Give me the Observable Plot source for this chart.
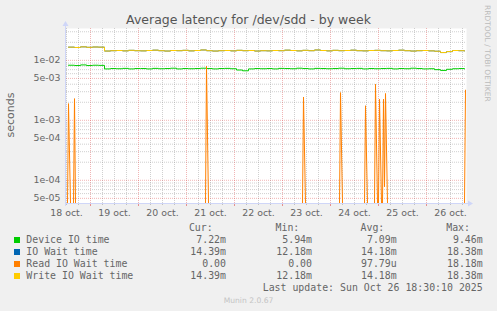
<!DOCTYPE html>
<html><head><meta charset="utf-8">
<script src="https://cdn.jsdelivr.net/npm/d3@7"></script>
<script src="https://cdn.jsdelivr.net/npm/@observablehq/plot@0.6"></script>
<style>
html,body{margin:0;padding:0;background:#F0F0F0;width:497px;height:311px;overflow:hidden;}
#wrap{position:relative;width:497px;height:311px;}
</style></head><body><div id="wrap"></div>
<script>
// ---- data ----
const startTime = "2025-10-18T13:00:00Z";   // first sample, 3-hour spacing
const stepHours = 3;
// Device IO time (milliseconds)
const deviceIO = [
  8.3,8.2,8.4,8.2,8.3,8.25,
  7.2,7.3,7.25,7.35,7.2,7.3,
  7.3,7.2,7.35,7.25,7.3,7.4,7.2,7.3,
  7.25,7.3,7.4,7.3,7.2,7.3,7.35,7.25,
  6.9,6.7,7.2,7.3,7.25,7.3,7.2,7.35,
  7.3,7.25,7.4,7.3,7.2,7.35,7.3,7.25,
  7.3,7.4,7.25,7.3,7.35,7.2,7.3,7.25,
  7.3,7.35,7.2,7.3,7.25,7.4,7.3,7.2,
  7.25,7.0,6.8,7.1,7.25,7.3,7.22
];
// Write IO Wait time (milliseconds)
const writeWait = [
  16.6,16.4,16.8,16.5,16.7,16.6,
  14.3,14.5,14.6,14.4,14.7,14.5,
  14.4,14.6,14.8,14.5,14.3,14.6,14.5,14.7,
  14.4,14.6,14.9,14.5,14.3,14.5,14.6,14.4,
  14.7,14.5,14.6,14.3,14.5,14.4,14.6,14.5,
  14.8,14.6,14.4,14.7,14.5,14.9,14.6,14.4,
  14.7,14.5,14.6,14.8,14.5,14.4,14.6,14.7,
  14.5,14.4,14.6,14.8,14.5,14.3,14.5,14.6,
  14.4,14.2,13.5,14.0,14.6,14.5,14.39
];
// IO Wait time: same values as write wait (identical statistics)
const ioWait = writeWait.slice();
// Read IO Wait time (seconds), spikes
const readTimes = [
  "2025-10-18T12:00Z","2025-10-18T12:30Z","2025-10-18T13:00Z","2025-10-18T14:00Z",
  "2025-10-18T15:30Z","2025-10-18T16:00Z","2025-10-18T16:30Z",
  "2025-10-21T09:30Z","2025-10-21T10:00Z","2025-10-21T11:00Z",
  "2025-10-23T10:00Z","2025-10-23T10:30Z","2025-10-23T11:30Z",
  "2025-10-24T04:30Z","2025-10-24T05:00Z","2025-10-24T06:00Z",
  "2025-10-24T17:00Z","2025-10-24T17:30Z","2025-10-24T18:30Z",
  "2025-10-24T22:00Z","2025-10-24T22:30Z","2025-10-24T23:30Z",
  "2025-10-25T00:00Z","2025-10-25T00:30Z","2025-10-25T01:30Z",
  "2025-10-25T02:00Z","2025-10-25T02:30Z","2025-10-25T03:00Z","2025-10-25T03:30Z","2025-10-25T04:30Z",
  "2025-10-26T19:00Z","2025-10-26T19:30Z","2025-10-26T20:00Z"
];
const readValues = [
  0,0,1.9e-3,0,
  0,2.3e-3,0,
  0,8.0e-3,0,
  0,2.45e-3,0,
  0,2.9e-3,0,
  0,1.75e-3,0,
  0,4.0e-3,0,
  0,2.25e-3,0,
  0,2.25e-3,7.8e-5,2.8e-3,0,
  0,3.2e-3,3.2e-3
];
const xDomain = ["2025-10-18T12:00Z","2025-10-26T20:00Z"];
const yDomain = [4.1e-5, 0.034];
const dayTicks = ["2025-10-18T12:00Z","2025-10-19T12:00Z","2025-10-20T12:00Z","2025-10-21T12:00Z",
  "2025-10-22T12:00Z","2025-10-23T12:00Z","2025-10-24T12:00Z","2025-10-25T12:00Z","2025-10-26T12:00Z"];
const dayLabels = ["18 oct.","19 oct.","20 oct.","21 oct.","22 oct.","23 oct.","24 oct.","25 oct.","26 oct."];
const yTickValues = [5e-5,1e-4,5e-4,1e-3,5e-3,1e-2];
const yTickLabels = ["5e-05","1e-04","5e-04","1e-03","5e-03","1e-02"];

const legendNames = ["Device IO time","IO Wait time","Read IO Wait time","Write IO Wait time"];
const legendColors = ["#00CC00","#0066B3","#FF8000","#FFCC00"];
const legendCur = ["7.22m","14.39m","0.00","14.39m"];
const legendMin = ["5.94m","12.18m","0.00","12.18m"];
const legendAvg = ["7.09m","14.18m","97.79u","14.18m"];
const legendMax = ["9.46m","18.38m","18.18m","18.38m"];
const title = "Average latency for /dev/sdd - by week";
const yLabel = "seconds";
const lastUpdate = "Last update: Sun Oct 26 18:30:10 2025";
const footer = "Munin 2.0.67";
const sideText = "RRDTOOL / TOBI OETIKER";

// ---- build ----
const t0 = Date.parse(startTime);
const times = deviceIO.map((_, i) => new Date(t0 + i * stepHours * 3600e3));
const dev = deviceIO.map((v, i) => ({t: times[i], v: v / 1000}));
const iow = ioWait.map((v, i) => ({t: times[i], v: v / 1000}));
const wr = writeWait.map((v, i) => ({t: times[i], v: v / 1000}));
const rd = readTimes.map((s, i) => ({t: new Date(s), v: readValues[i]}));
const xd = xDomain.map(s => new Date(s));
const dticks = dayTicks.map(s => new Date(s));
const yticks = yTickValues.map((v, i) => ({v, label: yTickLabels[i]}));

const majorY = yTickValues;
const minorY = [];
for (let k = -5; k <= -2; k++) for (let m = 1; m <= 9; m++) {
  const v = +(m * Math.pow(10, k)).toPrecision(3);
  if (v >= yDomain[0] && v <= yDomain[1] && !majorY.some(u => Math.abs(u - v) / v < 1e-6)) minorY.push(v);
}
const midnights = d3.utcDay.range(xd[0], xd[1]);
const sixH = d3.utcHour.every(6).range(xd[0], xd[1]).filter(d => d.getUTCHours() !== 0);

const gridGrey = {stroke: "#8f8f8f", strokeOpacity: 0.42, strokeDasharray: "1,1"};
const gridRed = {stroke: "#de4f4f", strokeOpacity: 0.42, strokeDasharray: "1,1"};

const plot = Plot.plot({
  width: 497, height: 311,
  marginLeft: 66, marginRight: 31, marginTop: 28, marginBottom: 108,
  style: {background: "transparent", fontFamily: "'DejaVu Sans'", fontSize: "9.4px", color: "#666", overflow: "visible"},
  x: {type: "utc", domain: xd, axis: null},
  y: {type: "log", domain: yDomain, axis: null},
  marks: [
    Plot.frame({fill: "#ffffff", stroke: null}),
    Plot.ruleY(minorY, gridGrey),
    Plot.ruleX(sixH, gridGrey),
    Plot.ruleY(majorY, gridRed),
    Plot.ruleX(midnights, gridRed),
    Plot.line(dev, {x: "t", y: "v", stroke: legendColors[0], strokeWidth: 1, curve: "step-after", clip: true}),
    Plot.line(iow, {x: "t", y: "v", stroke: legendColors[1], strokeWidth: 1, curve: "step-after", clip: true}),
    Plot.line(rd, {x: "t", y: d => Math.max(d.v, yDomain[0]), stroke: legendColors[2], strokeWidth: 1, clip: true}),
    Plot.line(wr, {x: "t", y: "v", stroke: legendColors[3], strokeWidth: 1, curve: "step-after", clip: true}),
    Plot.text(yticks, {y: "v", text: "label", frameAnchor: "left", textAnchor: "end", dx: -6, fill: "#666"}),
    Plot.axisX({ticks: dticks, tickFormat: d => dayLabels[dticks.findIndex(t => +t === +d)], tickSize: 0, tickPadding: 6, label: null, fill: "#666"}),
    Plot.axisX({ticks: sixH, tickSize: 2, tickFormat: () => "", label: null, stroke: "#8f8f8f", strokeOpacity: 0.5}),
    Plot.axisX({ticks: midnights, tickSize: 3, tickFormat: () => "", label: null, stroke: "#de4f4f", strokeOpacity: 0.6})
  ]
});
document.getElementById("wrap").appendChild(plot);

// ---- decorations: axes with arrows, title, legend ----
const svg = d3.select(plot);
const xs = plot.scale("x"), ys = plot.scale("y");
const [X0, X1] = xs.range, [Y0, Y1] = ys.range;
const axisCol = "#CFD6F8";
svg.append("line").attr("x1", X0 - 0.5).attr("x2", X1 + 2).attr("y1", Y0 + 0.5).attr("y2", Y0 + 0.5).attr("stroke", axisCol);
svg.append("line").attr("x1", X0 - 0.5).attr("x2", X0 - 0.5).attr("y1", Y0 + 3).attr("y2", Y1 - 2).attr("stroke", axisCol);
svg.append("polygon").attr("points", `${X1+2},${Y0-2.5} ${X1+7},${Y0+0.5} ${X1+2},${Y0+3.5}`).attr("fill", axisCol);
svg.append("polygon").attr("points", `${X0-3.5},${Y1-2} ${X0-0.5},${Y1-7} ${X0+2.5},${Y1-2}`).attr("fill", axisCol);

const txt = (x, y, s, o = {}) => svg.append("text").attr("x", x).attr("y", y).text(s)
  .attr("fill", o.fill || "#666").attr("font-family", o.font || "'DejaVu Sans'")
  .attr("font-size", o.size || "9.9px").attr("text-anchor", o.anchor || "start")
  .attr("transform", o.transform || null).style("white-space", "pre");

txt(248.5, 24, title, {size: "12.5px", anchor: "middle", fill: "#555"});
txt(0, 0, yLabel, {size: "11px", anchor: "middle", transform: "translate(14.3,115) rotate(-90)"});
txt(0, 0, sideText, {size: "7.5px", anchor: "start", fill: "#bbbbbb", transform: "translate(485,5) rotate(90)"});

const mono = "'DejaVu Sans Mono'";
const hdrBase = 231.3;
txt(212.7, hdrBase, "Cur:", {font: mono, anchor: "end"});
txt(299.3, hdrBase, "Min:", {font: mono, anchor: "end"});
txt(384.3, hdrBase, "Avg:", {font: mono, anchor: "end"});
txt(470, hdrBase, "Max:", {font: mono, anchor: "end"});
legendNames.forEach((n, i) => {
  const b = 243.3 + 12 * i;
  svg.append("rect").attr("x", 14).attr("y", b - 6.3).attr("width", 6).attr("height", 6).attr("fill", legendColors[i]);
  txt(26.3, b, n, {font: mono});
  txt(226, b, legendCur[i], {font: mono, anchor: "end"});
  txt(312, b, legendMin[i], {font: mono, anchor: "end"});
  txt(396.7, b, legendAvg[i], {font: mono, anchor: "end"});
  txt(482.7, b, legendMax[i], {font: mono, anchor: "end"});
});
txt(482.7, 291.3, lastUpdate, {font: mono, anchor: "end"});
txt(248.5, 303, footer, {size: "7.6px", anchor: "middle", fill: "#c4c4c4"});
</script></body></html>
